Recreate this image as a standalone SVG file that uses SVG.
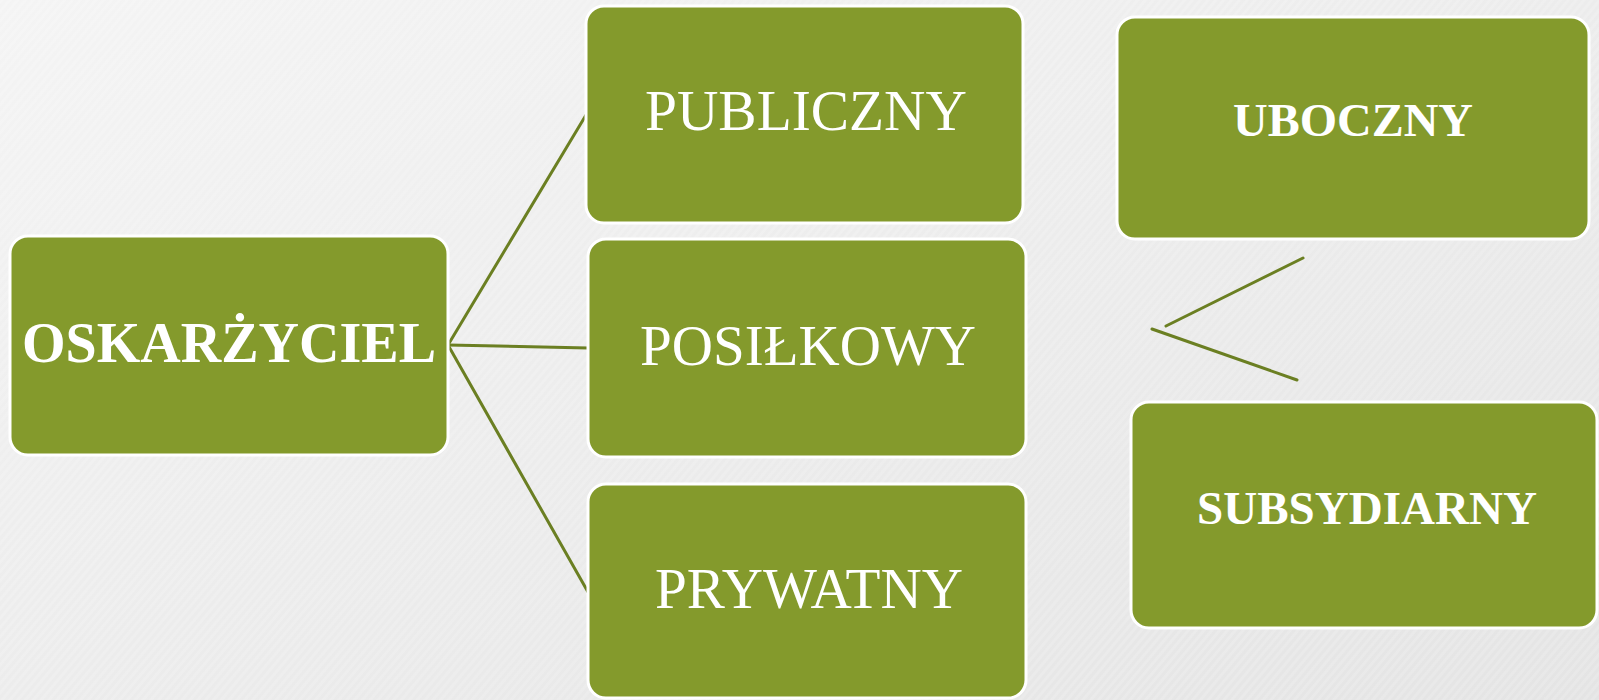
<svg xmlns="http://www.w3.org/2000/svg" width="1599" height="700" viewBox="0 0 1599 700">
<defs>
<linearGradient id="bg" x1="0" y1="0" x2="1" y2="1">
<stop offset="0" stop-color="#f4f4f4"/>
<stop offset="0.5" stop-color="#ececec"/>
<stop offset="1" stop-color="#e4e4e4"/>
</linearGradient>
<pattern id="tex" width="6" height="6" patternUnits="userSpaceOnUse" patternTransform="rotate(-50)">
<rect width="6" height="3" fill="#ffffff" opacity="0.15"/>
</pattern>
</defs>
<style>
.box{fill:#849A2C;stroke:#ffffff;stroke-width:3}
.lbl{font-family:"Liberation Serif","Times New Roman",serif;fill:#ffffff;text-anchor:middle}
.n{font-size:56px;font-weight:normal}
.b{font-weight:bold}
.conn line{stroke:#6B7F22;stroke-width:3;stroke-linecap:round}
</style>
<rect width="1599" height="700" fill="url(#bg)"/>
<rect width="1599" height="700" fill="url(#tex)"/>
<g id="connectors" class="conn">
<line x1="448" y1="345" x2="586" y2="115"/>
<line x1="448" y1="345" x2="588" y2="348"/>
<line x1="448" y1="345" x2="588" y2="592"/>
<line x1="1166" y1="326" x2="1303" y2="258"/>
<line x1="1152" y1="329" x2="1297" y2="380"/>
</g>
<g id="oskarzyciel">
<rect class="box" x="10" y="236" width="438" height="219" rx="18"/>
<text class="lbl b" x="229" y="362" font-size="56" textLength="414" lengthAdjust="spacingAndGlyphs">OSKARŻYCIEL</text>
</g>
<g id="publiczny">
<rect class="box" x="586" y="6" width="437" height="217" rx="18"/>
<text class="lbl n" x="806" y="130" textLength="322" lengthAdjust="spacingAndGlyphs">PUBLICZNY</text>
</g>
<g id="posilkowy">
<rect class="box" x="588" y="239" width="438" height="218" rx="18"/>
<text class="lbl n" x="808" y="365" textLength="336" lengthAdjust="spacingAndGlyphs">POSIŁKOWY</text>
</g>
<g id="prywatny">
<rect class="box" x="588" y="484" width="438" height="214" rx="18"/>
<text class="lbl n" x="809" y="608" textLength="308" lengthAdjust="spacingAndGlyphs">PRYWATNY</text>
</g>
<g id="uboczny">
<rect class="box" x="1117" y="17" width="472" height="222" rx="18"/>
<text class="lbl b" x="1353" y="136" font-size="47" textLength="240" lengthAdjust="spacingAndGlyphs">UBOCZNY</text>
</g>
<g id="subsydiarny">
<rect class="box" x="1131" y="402" width="466" height="226" rx="18"/>
<text class="lbl b" x="1367" y="524" font-size="47" textLength="340" lengthAdjust="spacingAndGlyphs">SUBSYDIARNY</text>
</g>
</svg>
